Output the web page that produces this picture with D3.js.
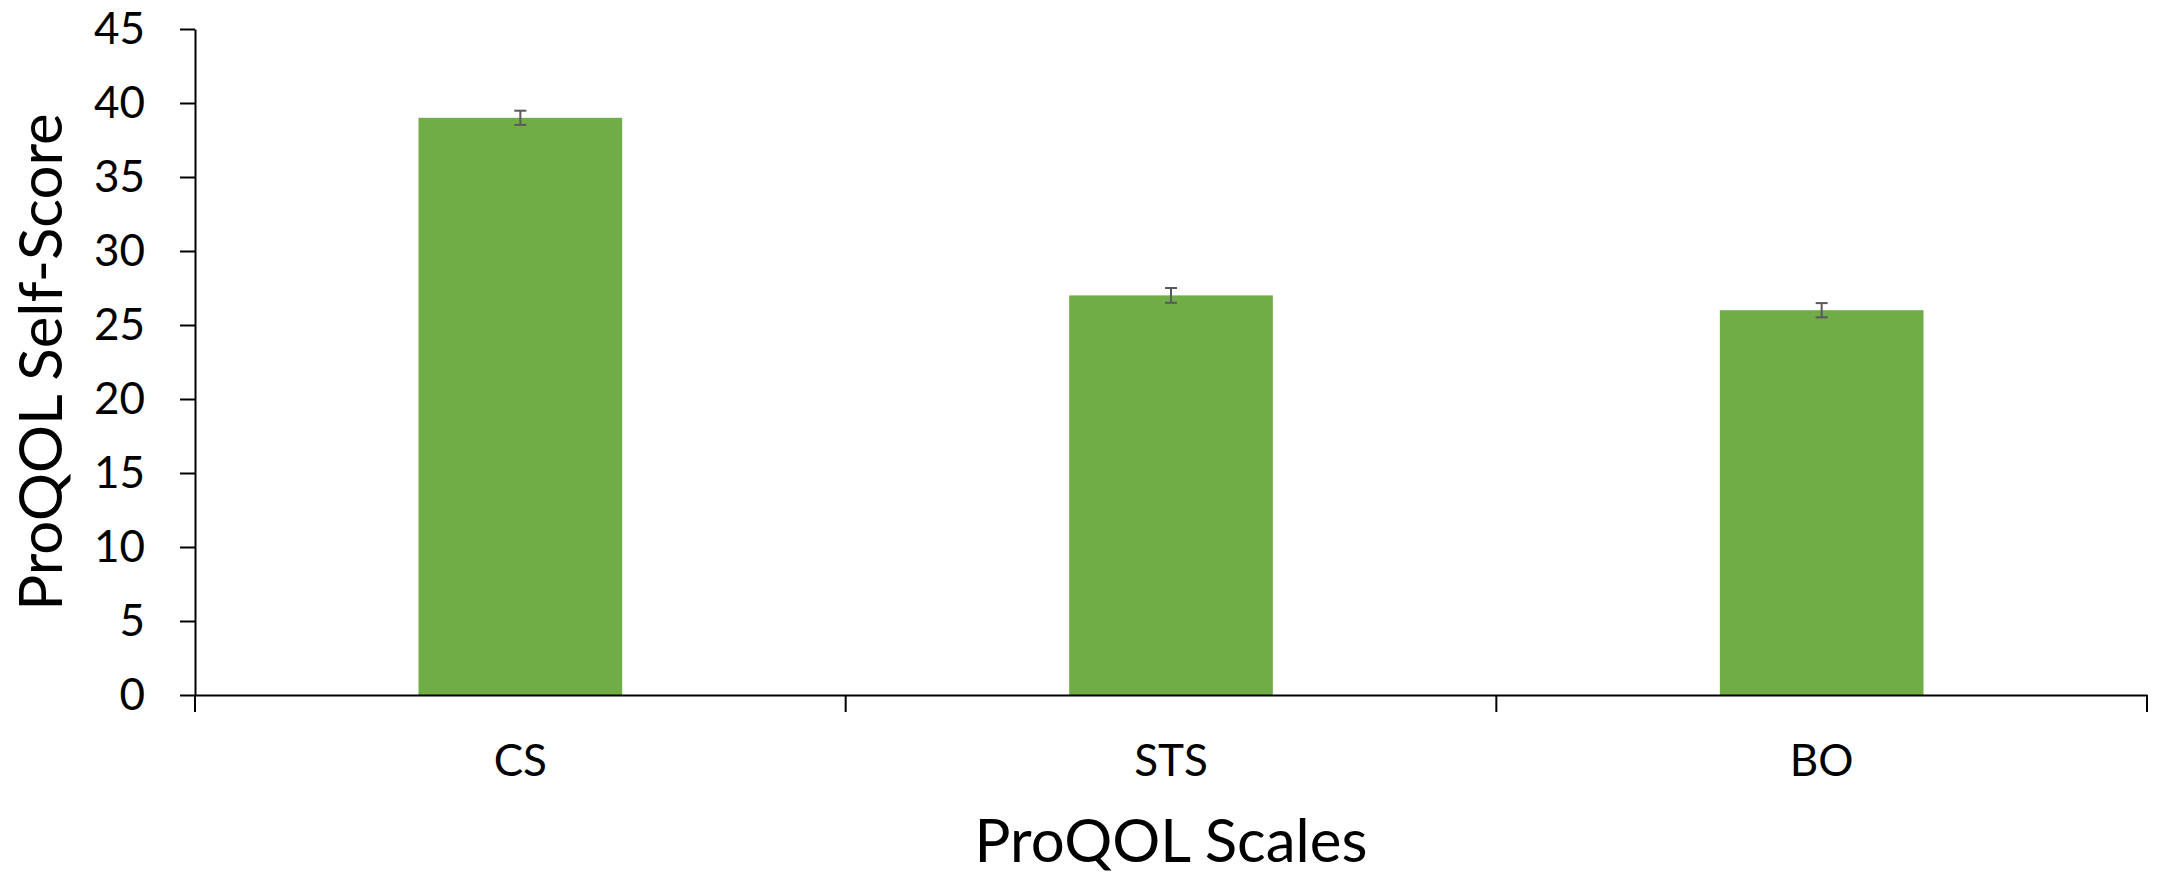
<!DOCTYPE html>
<html><head><meta charset="utf-8">
<script src="https://cdn.jsdelivr.net/npm/d3@7"></script>
<style>html,body{margin:0;padding:0;background:#fff;}svg{display:block;}</style>
</head><body>
<script>
const categories = ["CS", "STS", "BO"];
const values = [39, 27, 26];
const errors = [0.48, 0.5, 0.48];
const yTicks = [0, 5, 10, 15, 20, 25, 30, 35, 40, 45];
const xTitle = "ProQOL Scales";
const yTitle = "ProQOL Self-Score";

const W = 2160, H = 875;
const m = {left: 195, right: 13, top: 29, bottom: 180};
const font = "Lato, 'Open Sans', sans-serif";

const svg = d3.select("body").append("svg").attr("width", W).attr("height", H);
const x = d3.scaleBand().domain(categories).range([m.left, W - m.right]).paddingInner(0).paddingOuter(0);
const y = d3.scaleLinear().domain([0, 45]).range([H - m.bottom, m.top]);
const bw = x.bandwidth() * 0.313;

svg.append("g").selectAll("rect").data(categories).join("rect")
  .attr("x", (d) => x(d) + x.bandwidth() / 2 - bw / 2)
  .attr("y", (d, i) => y(values[i]))
  .attr("width", bw)
  .attr("height", (d, i) => y(0) - y(values[i]))
  .attr("fill", "#70AD47");

const eb = svg.append("g").attr("stroke", "#595959").attr("stroke-width", 2);
categories.forEach((c, i) => {
  const cx = x(c) + x.bandwidth() / 2;
  eb.append("line").attr("x1", cx).attr("x2", cx).attr("y1", y(values[i] + errors[i])).attr("y2", y(values[i] - errors[i]));
  [values[i] + errors[i], values[i] - errors[i]].forEach(v => {
    eb.append("line").attr("x1", cx - 6).attr("x2", cx + 6).attr("y1", y(v)).attr("y2", y(v));
  });
});

// Y axis
const ya = svg.append("g").attr("transform", `translate(${m.left},0)`)
  .call(d3.axisLeft(y).tickValues(yTicks).tickSize(15).tickPadding(35).tickSizeOuter(0));
ya.select(".domain").attr("stroke", "#000").attr("stroke-width", 2);
ya.selectAll(".tick line").attr("stroke", "#000").attr("stroke-width", 2);
ya.selectAll(".tick text").attr("font-family", font).attr("font-size", 44).attr("fill", "#000");

// X axis
const xa = svg.append("g").attr("transform", `translate(0,${y(0)})`)
  .call(d3.axisBottom(x).tickSize(0).tickPadding(50).tickSizeOuter(0));
xa.select(".domain").attr("stroke", "#000").attr("stroke-width", 2);
xa.selectAll(".tick text").attr("font-family", font).attr("font-size", 44).attr("fill", "#000");
// category boundary ticks
const bounds = categories.map(c => x(c)).concat([x(categories[categories.length - 1]) + x.bandwidth()]);
xa.append("g").selectAll("line").data(bounds).join("line")
  .attr("x1", d => d).attr("x2", d => d).attr("y1", 0).attr("y2", 17)
  .attr("stroke", "#000").attr("stroke-width", 2);

svg.append("text").attr("x", (m.left + W - m.right) / 2).attr("y", 862)
  .attr("text-anchor", "middle").attr("font-family", font).attr("font-size", 60).attr("fill", "#000").text(xTitle);
svg.append("text").attr("transform", `translate(62,${(m.top + H - m.bottom) / 2}) rotate(-90)`)
  .attr("text-anchor", "middle").attr("font-family", font).attr("font-size", 60).attr("fill", "#000").text(yTitle);
</script>
</body></html>
